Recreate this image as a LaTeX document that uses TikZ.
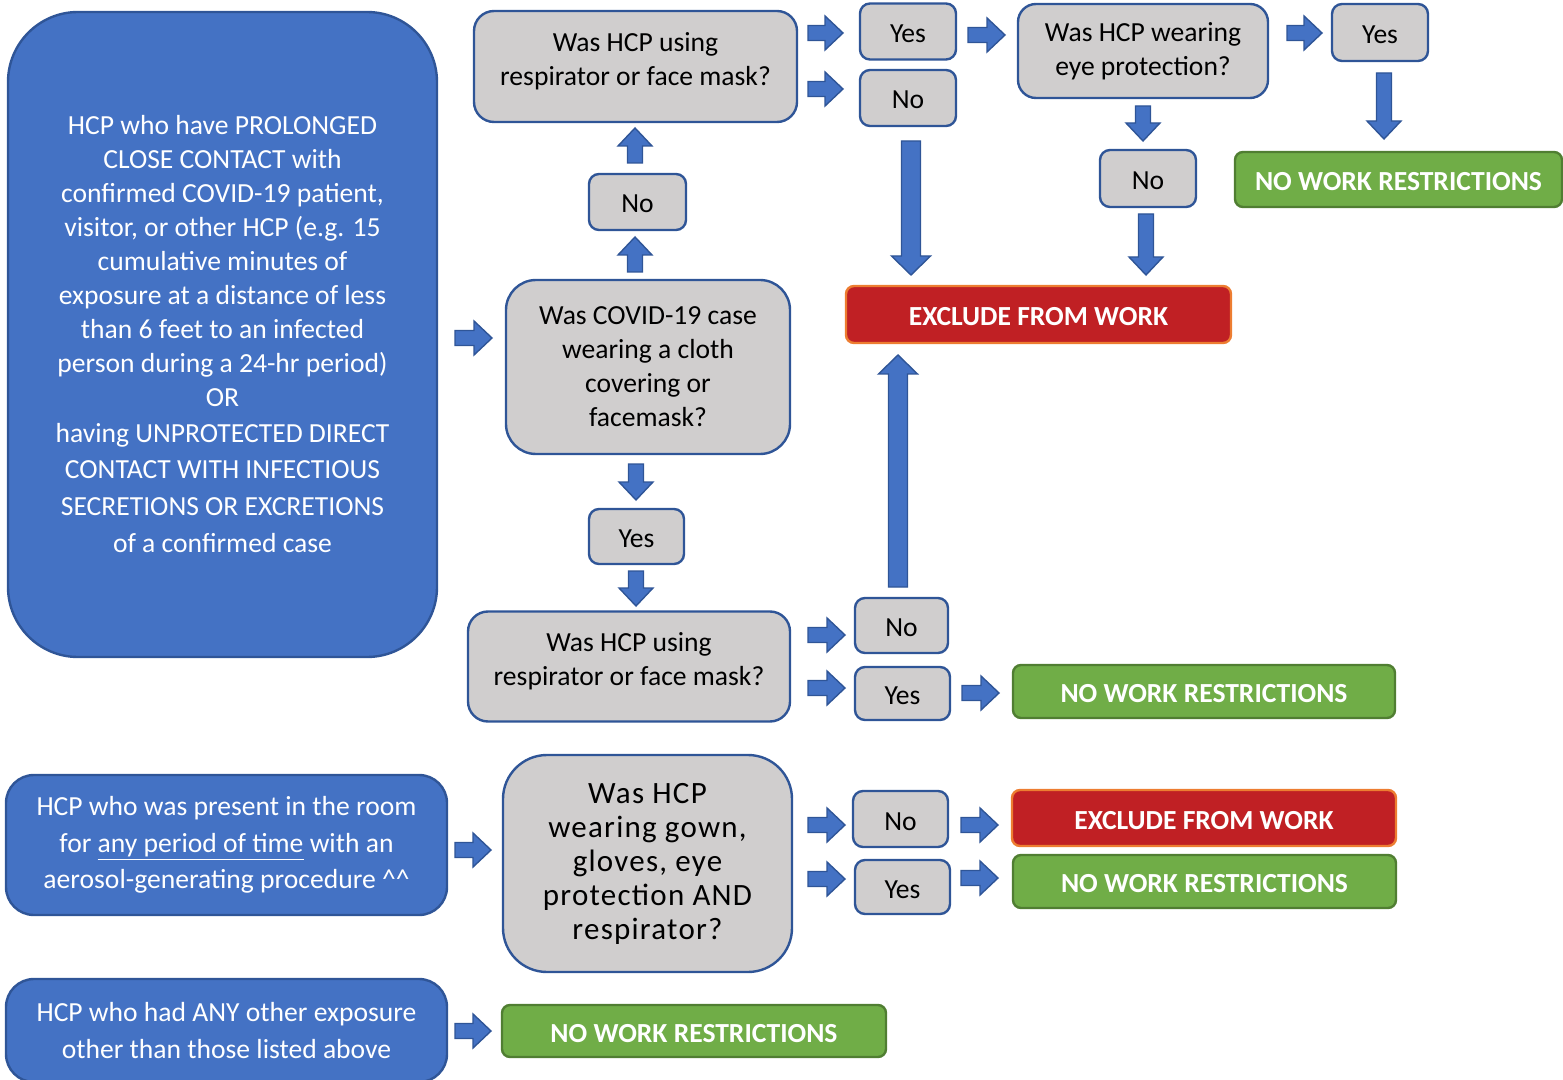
\documentclass[tikz,border=0pt]{standalone}
\usepackage{fontspec}
\setmainfont{Carlito}
\usetikzlibrary{calc}
\definecolor{bluef}{HTML}{4472C4}
\definecolor{blued}{HTML}{2F5597}
\definecolor{greyf}{HTML}{D0CECE}
\definecolor{redf}{RGB}{192,32,36}
\definecolor{oranged}{HTML}{ED7D31}
\definecolor{greenf}{HTML}{70AD47}
\definecolor{greend}{HTML}{507E32}
\newcommand\BA[7]{%
  \begin{scope}[shift={#2},rotate=#3]
    \filldraw[blockarrow] (0,-#5) -- ({#4-#7},-#5) -- ({#4-#7},-#6) -- (#4,0)
      -- ({#4-#7},#6) -- ({#4-#7},#5) -- (0,#5) -- cycle;
    \coordinate (#1) at ({#4/2},0);
  \end{scope}}
\newcommand\SA[4]{\BA{#1}{#2}{#3}{#4}{7.5}{17}{18}}
\newcommand\LA[4]{\BA{#1}{#2}{#3}{#4}{9.5}{19.5}{19}}
\tikzset{
  every node/.style={font=\fontsize{13.8}{17}\selectfont, align=center, inner sep=0pt},
  sz/.style 2 args={minimum width=#1*0.5pt, minimum height=#2*0.5pt},
  qbox/.style={draw=blued, fill=greyf, line width=1.2pt, rounded corners=#1},
  ansbox/.style={qbox=5pt, text height=11pt, text depth=0pt},
  srcbox/.style={draw=blued, fill=bluef, line width=1.2pt, rounded corners=#1, text=white},
  redbox/.style={draw=oranged, fill=redf, line width=1.2pt, rounded corners=4pt, text=white,
    font=\fontsize{13.8}{17}\selectfont\bfseries, text height=11pt, text depth=0pt},
  grnbox/.style={draw=greend, fill=greenf, line width=1.2pt, rounded corners=4pt, text=white,
    font=\fontsize{13.8}{17}\selectfont\bfseries, text height=11pt, text depth=0pt},
  blockarrow/.style={fill=bluef, draw=blued, line width=0.7pt, line join=miter},
}
\begin{document}
\begin{tikzpicture}[x=0.5pt,y=-0.5pt]
\useasboundingbox (0,0) rectangle (1563,1080);

% source boxes
\node[srcbox=35pt, sz={429}{645}] (big) at (222.5,334.5)
  {HCP who have PROLONGED\\CLOSE CONTACT with\\confirmed COVID-19 patient,\\visitor, or other HCP (e.g. 15\\cumulative minutes of\\exposure at a distance of less\\than 6 feet to an infected\\person during a 24-hr period)\\OR\\[1pt]having UNPROTECTED DIRECT\\[1pt]CONTACT WITH INFECTIOUS\\[1.5pt]SECRETIONS OR EXCRETIONS\\[1.5pt]of a confirmed case};
\node[srcbox=14pt, sz={441}{140}, font=\fontsize{13.8}{18.3}\selectfont] (aero) at (226.5,845)
  {HCP who was present in the room\\for \underline{any period of time} with an\\aerosol-generating procedure \textasciicircum\textasciicircum};
\node[srcbox=14pt, sz={441}{103}, font=\fontsize{13.8}{18.5}\selectfont] (other) at (226.5,1030.5)
  {HCP who had ANY other exposure\\other than those listed above};

% questions
\node[qbox=10pt, sz={323}{111}, text depth=7pt] (q1) at (635.5,66.5) {Was HCP using\\respirator or face mask?};
\node[qbox=9pt, sz={250}{94}] (q2) at (1143,51) {Was HCP wearing\\eye protection?};
\node[qbox=15pt, sz={284}{174}] (q3) at (648,367) {Was COVID-19 case\\wearing a cloth\\covering or\\facemask?};
\node[qbox=10pt, sz={322}{110}, text depth=7pt] (q4) at (629,666.5) {Was HCP using\\respirator or face mask?};
\node[qbox=22pt, sz={289}{217}, font=\fontsize{15.5}{17}\selectfont\addfontfeature{LetterSpace=4}] (q5) at (647.5,863.5)
  {Was HCP\\wearing gown,\\gloves, eye\\protection AND\\respirator?};

% answers
\node[ansbox, sz={96}{56}] (yes1) at (908,31.5) {Yes};
\node[ansbox, sz={96}{56}] (no1) at (908,98) {No};
\node[ansbox, sz={96}{57}] (yes2) at (1380,32.5) {Yes};
\node[ansbox, sz={96}{57}] (no2) at (1148,178.5) {No};
\node[ansbox, sz={97}{56}] (nomid) at (637.5,202) {No};
\node[ansbox, sz={95}{55}] (yesmid) at (636.5,536.5) {Yes};
\node[ansbox, sz={93}{55}] (no3) at (901.5,625.5) {No};
\node[ansbox, sz={95}{53}] (yes3) at (902.5,693.5) {Yes};
\node[ansbox, sz={95}{56}] (no4) at (900.5,819) {No};
\node[ansbox, sz={95}{54}] (yes4) at (902.5,887) {Yes};

% results
\node[grnbox, sz={327}{55}] (nwr1) at (1398.5,179.5) {NO WORK RESTRICTIONS};
\node[redbox, sz={385}{57}] (excl1) at (1038.5,314.5) {EXCLUDE FROM WORK};
\node[grnbox, sz={382}{53}] (nwr2) at (1204,691.5) {NO WORK RESTRICTIONS};
\node[redbox, sz={384}{56}] (excl2) at (1204,818) {EXCLUDE FROM WORK};
\node[grnbox, sz={383}{53}] (nwr3) at (1204.5,881.5) {NO WORK RESTRICTIONS};
\node[grnbox, sz={384}{52}] (nwr4) at (694,1031) {NO WORK RESTRICTIONS};

% block arrows (right)
\SA{a1}{(808,33)}{0}{35}
\SA{a2}{(808,89)}{0}{35}
\SA{a3}{(968,35)}{0}{37}
\SA{a4}{(1287,33)}{0}{35}
\SA{a5}{(455,338)}{0}{37}
\SA{a6}{(808,635)}{0}{37}
\SA{a7}{(808,688)}{0}{37}
\SA{a8}{(962,693)}{0}{37}
\SA{a9}{(455,850)}{0}{36}
\SA{a10}{(808,825)}{0}{37}
\SA{a11}{(808,879)}{0}{37}
\SA{a12}{(961,825)}{0}{37}
\SA{a13}{(961,878)}{0}{37}
\SA{a14}{(455,1031)}{0}{36}
% down
\SA{d1}{(1384,73)}{-90}{66}
\SA{d2}{(1143,106)}{-90}{35}
\SA{d3}{(1146,214)}{-90}{61}
\LA{d4}{(911,141)}{-90}{134}
\SA{d5}{(636,464)}{-90}{36}
\SA{d6}{(636,571)}{-90}{35}
% up
\SA{u1}{(635,272)}{90}{35}
\SA{u2}{(635,163)}{90}{35}
\LA{u3}{(898,587)}{90}{232}
\end{tikzpicture}
\end{document}
